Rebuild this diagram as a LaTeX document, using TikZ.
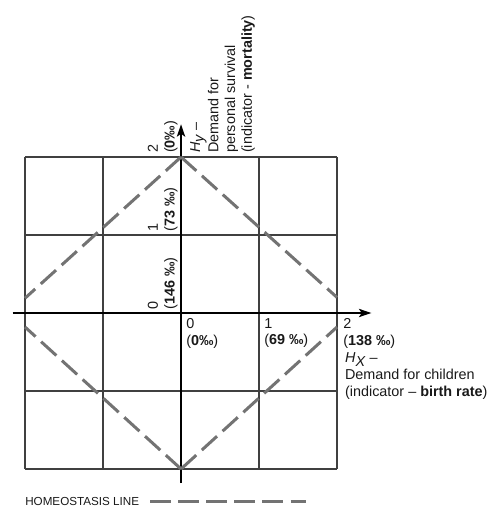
\documentclass[tikz,border=0pt]{standalone}
\usepackage{fontspec}
\setmainfont{Liberation Sans}
\usetikzlibrary{arrows.meta}

\begin{document}
\begin{tikzpicture}[x=2cm, y=2cm,
  gridline/.style={line width=0.9pt, black!75},
  axis/.style={line width=1.4pt, -{Stealth[length=9pt, width=6pt, inset=2pt]}},
  homeo/.style={line width=2.2pt, black!55, dash pattern=on 15pt off 5.5pt},
  tick/.style={font=\fontsize{10.5}{12.2}\selectfont, align=left, inner sep=0pt, text=black!90},
  xtick/.style={tick, anchor=north west},
  ytick/.style={tick, rotate=90, anchor=south west},
  axlabel/.style={tick, anchor=north west}
]
\useasboundingbox (-2.321,-2.513) rectangle (3.949,4.013);

% grid of the plane
\draw[gridline, step=2cm] (-2,-2) grid (2,2);

% axes
\coordinate (xs) at (-2.16,0);
\coordinate (xe) at (2.44,0);
\coordinate (ys) at (0,-2.18);
\coordinate (ye) at (0,2.42);
\draw[axis] (xs) -- (xe);
\draw[axis] (ys) -- (ye);

% homeostasis line
\coordinate (top) at (0,2);
\coordinate (bot) at (0,-2);
\coordinate (lu) at (-2,0.19);
\coordinate (ld) at (-2,-0.18);
\coordinate (ru) at (2,0.2);
\coordinate (rd) at (2,-0.18);
\draw[homeo] (top) -- (lu);
\draw[homeo] (top) -- (ru);
\draw[homeo] (bot) -- (ld);
\draw[homeo] (bot) -- (rd);

% ticks on H_x
\node[xtick] (x0) at (0.064,-0.064) {0\\(\textbf{0‰})};
\node[xtick] (x1) at (1.064,-0.064) {1\\(\textbf{69 ‰})};
\node[xtick] (x2) at (2.077,-0.064) {2\\(\textbf{138 ‰})};

% ticks on H_y
\node[ytick] (y0) at (-0.04,0.045) {0\\(\textbf{146 ‰})};
\node[ytick] (y1) at (-0.04,1.045) {1\\(\textbf{73 ‰})};
\node[ytick] (y2) at (-0.04,2.05) {2\\(\textbf{0‰})};

% axis labels
\node[axlabel] (hx) at (2.10,-0.51) {\textit{H}\raisebox{-0.45ex}{\textit{X}} –\\Demand for children\\(indicator – \textbf{birth rate})};
\node[axlabel, rotate=90] (hy) at (0.115,2.05) {\textit{H}\raisebox{-0.45ex}{\textit{y}} –\\Demand for\\personal survival\\(indicator - \textbf{mortality})};

% legend
\node[font=\fontsize{8.5}{10}\selectfont, anchor=west, inner sep=0pt, text=black!90] (leg) at (-2.0,-2.423) {HOMEOSTASIS LINE};
\coordinate (legA) at (-0.397,-2.423);
\coordinate (legB) at (1.603,-2.423);
\draw[homeo] (legA) -- (legB);
\end{tikzpicture}
\end{document}
